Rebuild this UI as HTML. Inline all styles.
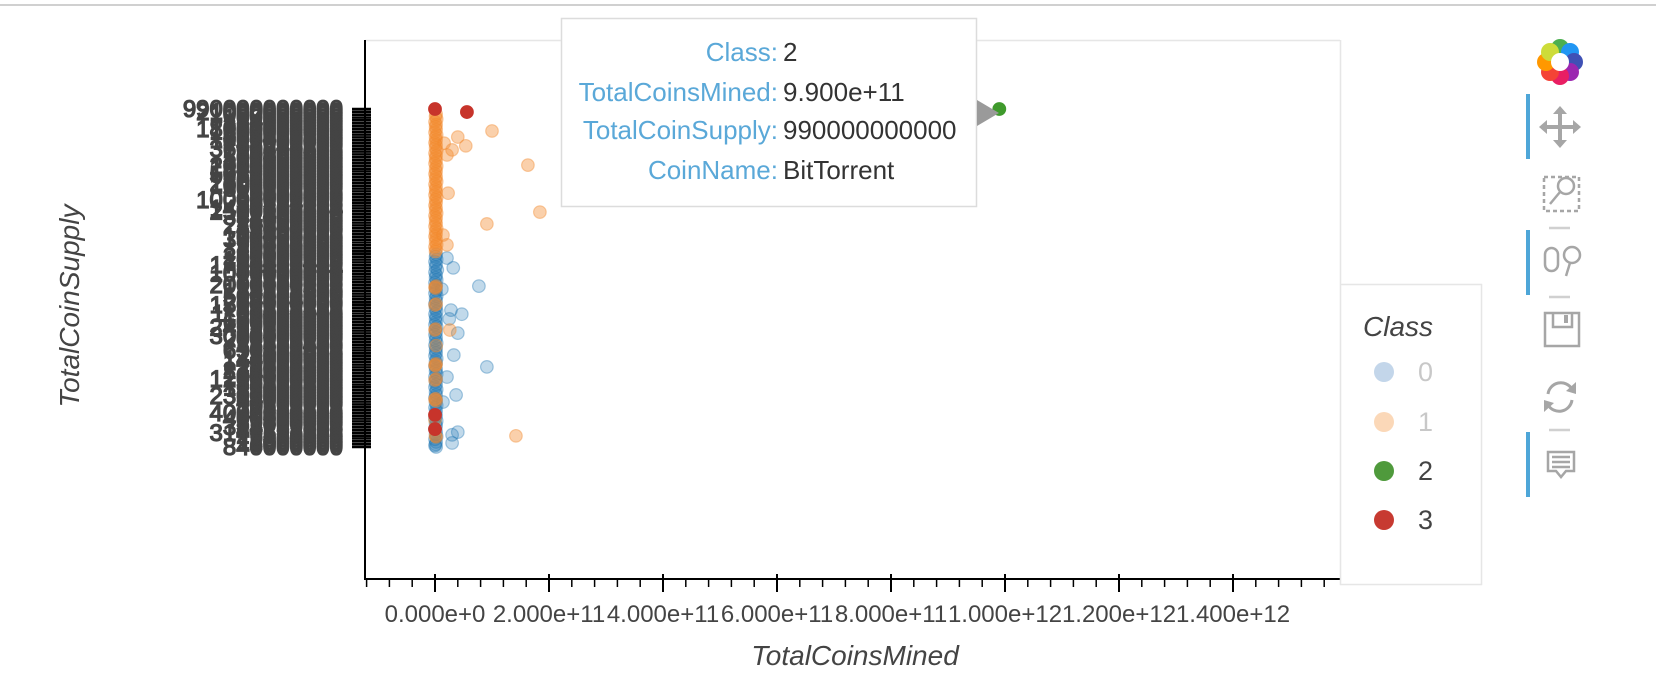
<!DOCTYPE html>
<html><head><meta charset="utf-8">
<style>
html,body{margin:0;padding:0;background:#fff;}
svg{display:block;font-family:"Liberation Sans",sans-serif;}
</style></head>
<body>
<svg id="chart" width="1656" height="694" viewBox="0 0 1656 694" xmlns="http://www.w3.org/2000/svg">
  <rect x="0" y="0" width="1656" height="694" fill="#fff"/>
  <rect x="0" y="4" width="1656" height="2" fill="#d0d0d0"/>
  <line x1="365" y1="40.5" x2="1340" y2="40.5" stroke="#e6e6e6" stroke-width="1.5"/>
  <line x1="1340.5" y1="40" x2="1340.5" y2="284" stroke="#e6e6e6" stroke-width="1.5"/>
  <g id="ylabels"></g>
  <g id="yticks"></g>
  <g id="xaxis"></g>
  <line x1="365" y1="40" x2="365" y2="580" stroke="#000" stroke-width="2"/>
  <g id="points"></g>
  <text x="79" y="306" transform="rotate(-90 79 306)" text-anchor="middle" font-size="28" font-style="italic" fill="#444">TotalCoinSupply</text>
  <text x="855" y="665" text-anchor="middle" font-size="28" font-style="italic" fill="#444">TotalCoinsMined</text>

  <g>
    <rect x="1340.5" y="284.5" width="141" height="300" fill="#fff" stroke="#e6e6e6" stroke-width="1.5"/>
    <text x="1363" y="336" font-size="28" font-style="italic" fill="#444">Class</text>
    <g><circle cx="1384" cy="372" r="10" fill="#c3d6ea"/><text x="1418" y="381" font-size="27" fill="#c8c8c8">0</text></g>
    <g><circle cx="1384" cy="422" r="10" fill="#fbd8b8"/><text x="1418" y="431" font-size="27" fill="#c8c8c8">1</text></g>
    <g><circle cx="1384" cy="471" r="10" fill="#4f9a3c"/><text x="1418" y="480" font-size="27" fill="#444">2</text></g>
    <g><circle cx="1384" cy="520" r="10" fill="#c73a31"/><text x="1418" y="529" font-size="27" fill="#444">3</text></g>
  </g>

  <g>
    <rect x="561.5" y="18.5" width="415" height="188" fill="#fff" stroke="#dcdcdc" stroke-width="1.5"/>
    <polygon points="977,100 999,113 977,126" fill="#9a9a9a"/>
    <g font-size="26">
      <text x="778" y="61" text-anchor="end" fill="#5aa8d8">Class:</text><text x="783" y="61" fill="#333">2</text>
      <text x="778" y="101" text-anchor="end" fill="#5aa8d8">TotalCoinsMined:</text><text x="783" y="101" fill="#333">9.900e+11</text>
      <text x="778" y="139" text-anchor="end" fill="#5aa8d8">TotalCoinSupply:</text><text x="783" y="139" fill="#333">990000000000</text>
      <text x="778" y="179" text-anchor="end" fill="#5aa8d8">CoinName:</text><text x="783" y="179" fill="#333">BitTorrent</text>
    </g>
  </g>

  <g>
    <g transform="translate(1560,62)">
      <circle cx="0" cy="-14" r="9" fill="#4caf50"/><circle cx="10" cy="-10" r="9" fill="#2196f3"/>
      <circle cx="14" cy="0" r="9" fill="#3f51b5"/><circle cx="10" cy="10" r="9" fill="#9c27b0"/>
      <circle cx="0" cy="14" r="9" fill="#e91e63"/><circle cx="-10" cy="10" r="9" fill="#f44336"/>
      <circle cx="-14" cy="0" r="9" fill="#ff9800"/><circle cx="-10" cy="-10" r="9" fill="#cddc39"/>
      <circle cx="0" cy="0" r="9" fill="#fff"/>
    </g>
    <rect x="1526" y="94" width="4" height="65" fill="#4ea6d8"/>
    <rect x="1526" y="230" width="4" height="65" fill="#4ea6d8"/>
    <rect x="1526" y="432" width="4" height="65" fill="#4ea6d8"/>
    <g fill="#a6a6a6" stroke="#a6a6a6">
      <line x1="1544" y1="127" x2="1576" y2="127" stroke-width="4"/><line x1="1560" y1="111" x2="1560" y2="143" stroke-width="4"/>
      <polygon points="1560,106 1553,114 1567,114" stroke="none"/><polygon points="1560,148 1553,140 1567,140" stroke="none"/>
      <polygon points="1539,127 1547,120 1547,134" stroke="none"/><polygon points="1581,127 1573,120 1573,134" stroke="none"/>
    </g>
    <g fill="none" stroke="#a6a6a6" stroke-width="2.5">
      <rect x="1544" y="177" width="35" height="34" stroke-dasharray="4 3"/>
      <circle cx="1566" cy="186" r="8" fill="#fff"/><line x1="1560" y1="192" x2="1550" y2="204"/>
    </g>
    <line x1="1549" y1="228" x2="1570" y2="228" stroke="#d0d0d0" stroke-width="2.5"/>
    <g fill="none" stroke="#a6a6a6" stroke-width="2.5">
      <rect x="1545" y="248" width="13" height="23" rx="6.5"/>
      <circle cx="1572" cy="255" r="8"/><line x1="1570" y1="263" x2="1566" y2="276"/>
    </g>
    <line x1="1549" y1="297" x2="1570" y2="297" stroke="#d0d0d0" stroke-width="2.5"/>
    <g fill="none" stroke="#a6a6a6" stroke-width="2.5">
      <rect x="1545" y="313" width="34" height="33"/><polyline points="1553,313 1553,327 1572,327 1572,313"/>
      <rect x="1564" y="315" width="4" height="8" fill="#a6a6a6" stroke="none"/>
    </g>
    <g fill="none" stroke="#a6a6a6" stroke-width="3">
      <path d="M1548 394 A13 13 0 0 1 1572 389"/><path d="M1572 400 A13 13 0 0 1 1548 405"/>
      <polygon points="1576,382 1576,394 1566,391" fill="#a6a6a6" stroke="none"/>
      <polygon points="1544,412 1544,400 1554,403" fill="#a6a6a6" stroke="none"/>
    </g>
    <line x1="1549" y1="430" x2="1570" y2="430" stroke="#d0d0d0" stroke-width="2.5"/>
    <g fill="none" stroke="#a6a6a6" stroke-width="2.5">
      <path d="M1548 452 H1574 V471 H1566 L1561 477 L1556 471 H1548 Z"/>
      <line x1="1552" y1="457" x2="1570" y2="457"/><line x1="1552" y1="462" x2="1570" y2="462"/><line x1="1552" y1="467" x2="1570" y2="467"/>
    </g>
  </g>
</svg>
<script>
// ---------- data ----------
const xTickValues = [0, 2e11, 4e11, 6e11, 8e11, 1e12, 1.2e12, 1.4e12];
const xTickLabels = ["0.000e+0","2.000e+11","4.000e+11","6.000e+11","8.000e+11","1.000e+12","1.200e+12","1.400e+12"];
const yCategoryLabels = [
"990000000000","21000000000","1000000000","100000000","84000000","21000000","250000000","18000000000","1600000000","500000000",
"265420800","1000000000","42000000","72245700","3600570502","21000000","10500000","500000000","120000000","98000000",
"2000000000","1840000000","210000000","5060000000","275000000","100000000","2100000000","1000000000","300000000","2232901",
"30000000","55000000","10000000000","32514916","30886000","1420609614","2500000000","21400000","384000000","1000000",
"24000000","210240000","45000000","25000000","18406979","100000000","350000000","9736000","90000000","80000000",
"16600000","60000000","250000000","105000000","184467440","1750000000","24487944","40000000","1000000000","22000000",
"13370000","3315789","2000000000","16906397","174958000","78835200","500000000","14524851","265000000","1500000000",
"3853326","38533248","1100000000","20000000","120000000","600000000","29000000","2419200000","92000000","12500000",
"3000000000","200000000","27716121","35520400","46000000","650659833","15000000","27000000","144000000","140000000",
"19276800","17000000","230000000","4500000","100000000","1200000000","36900000","81962100","170000000","32000000",
"8000000","2300000000","64000000","42000000","90600000","10638298","11235813","4000000000","1300000","400000000",
"31800000","52000000","314159265","48252000","3141592653","26550000","2800000","12000000","6000000","840000000"
];
const class0Points = [
[2e9,57],[1e9,56.3],[3e9,55.5],[0,54.8],[2e9,54],[1e9,53.2],[4e9,52.4],[0,51.7],[2e9,50.9],[1e9,50.1],
[3e9,49.4],[0,48.6],[2e9,47.8],[1e9,47],[2e9,46.3],[0,45.5],[3e9,44.7],[1e9,44],[2e9,43.2],[0,42.4],
[2e9,41.6],[1e9,40.9],[3e9,40.1],[0,39.3],[2e9,38.6],[1e9,37.8],[2e9,37],[0,36.2],[3e9,35.5],[1e9,34.7],
[2e9,33.9],[0,33.2],[2e9,32.4],[1e9,31.6],[3e9,30.8],[0,30.1],[2e9,29.3],[1e9,28.5],[2e9,27.8],[0,27],
[3e9,26.2],[1e9,25.4],[2e9,24.7],[0,23.9],[2e9,23.1],[1e9,22.4],[3e9,21.6],[0,20.8],[2e9,20],[1e9,19.3],
[2e9,18.5],[0,17.7],[3e9,17],[1e9,16.2],[2e9,15.4],[0,14.6],[2e9,13.9],[1e9,13.1],[3e9,12.3],[0,11.6],
[2e9,10.8],[1e9,10],[2e9,9.2],[0,8.5],[3e9,7.7],[1e9,6.9],[2e9,6.2],[0,5.4],[2e9,4.6],[1e9,3.8],
[3e9,3.1],[0,2.3],[2e9,1.5],[1e9,0.8],[2e9,0],[0,0.4],
[2.1e10,55.9],[3.2e10,53],[7.7e10,47.6],[1.2e10,46.7],[2.8e10,40.5],[4.7e10,39.3],[2.5e10,37.9],[4.0e10,33.7],
[3.3e10,27.2],[9.1e10,23.7],[2.1e10,20.7],[3.7e10,15.4],[1.4e10,13.3],[4.0e10,4.4],[3.0e10,3.6],[3.0e10,1.2]
];
const class1Points = [
[2e9,98.5],[1e9,97.8],[3e9,97],[0,96.2],[2e9,95.4],[1e9,94.7],[2e9,93.9],[0,93.1],[3e9,92.3],[1e9,91.6],
[2e9,90.8],[0,90],[2e9,89.3],[1e9,88.5],[3e9,87.7],[0,86.9],[2e9,86.2],[1e9,85.4],[2e9,84.6],[0,83.9],
[3e9,83.1],[1e9,82.3],[2e9,81.5],[0,80.8],[2e9,80],[1e9,79.2],[3e9,78.5],[0,77.7],[2e9,76.9],[1e9,76.1],
[2e9,75.4],[0,74.6],[3e9,73.8],[1e9,73.1],[2e9,72.3],[0,71.5],[2e9,70.7],[1e9,70],[3e9,69.2],[0,68.4],
[2e9,67.7],[1e9,66.9],[2e9,66.1],[0,65.3],[3e9,64.6],[1e9,63.8],[2e9,63],[0,62.3],[2e9,61.5],[1e9,60.7],
[3e9,59.9],[0,59.2],[2e9,58.4],[1e9,57.8],
[0,47.3],[2e9,47.6],[1e9,47],[0,42],[2e9,42.3],[0,34.6],[1e9,34.9],[2e9,30],[0,24.3],[2e9,24.6],[1e9,24],
[0,19.8],[2e9,20.1],[0,14],[1e9,14.3],[2e9,13.7],[0,8],[2e9,3],[1e9,3.3],
[1.0e11,93.5],[4.0e10,91.7],[5.4e10,89.1],[3.0e10,87.9],[1.6e10,89.9],[2.1e10,86.4],[1.63e11,83.4],[2.3e10,75.1],
[1.84e11,69.5],[9.1e10,66],[1.4e10,62.7],[2.1e10,59.8],[2.6e10,34.6],[1.42e11,3.3]
];
const class2Points = [[9.9e11,100]];
const class3Points = [[0,100],[5.6e10,99.1],[0,9.5],[0,5.3]];

// ---------- scales ----------
const X0 = 435, PX_PER_UNIT = 570 / 1e12;
function xScale(v){ return X0 + v * PX_PER_UNIT; }
const Y_BOTTOM = 447, Y_TOP = 109;
function yScale(rank){ return Y_BOTTOM - rank / 100 * (Y_BOTTOM - Y_TOP); }
const NS = "http://www.w3.org/2000/svg";
function mk(tag, attrs, parent){ const e = document.createElementNS(NS, tag); for (const k in attrs) e.setAttribute(k, attrs[k]); parent.appendChild(e); return e; }

// ---------- x axis ----------
const xaxis = document.getElementById('xaxis');
const axLine = mk('line', {x1:365, y1:579, x2:1340, y2:579, stroke:'#000', 'stroke-width':2}, xaxis);


const xMin = (365 - X0) / PX_PER_UNIT, xMax = (1340 - X0) / PX_PER_UNIT;
const minorStep = 4e10;
for (let v = Math.ceil(xMin / minorStep) * minorStep; v <= xMax; v += minorStep) {
  const px = xScale(v);
  const t = mk('line', {x1:px, y1:579, x2:px, y2:587, stroke:'#000', 'stroke-width':1.5}, xaxis);
  
  
}
xTickValues.forEach((v, i) => {
  const px = xScale(v);
  const t = mk('line', {x1:px, y1:574, x2:px, y2:592, stroke:'#000', 'stroke-width':2}, xaxis);
  
  
  const lab = mk('text', {x:px, y:622, 'text-anchor':'middle', 'font-size':24, fill:'#444'}, xaxis);
  lab.textContent = xTickLabels[i];
  
  
});

// ---------- y axis (categorical) ----------
const ylabels = document.getElementById('ylabels');
const yticks = document.getElementById('yticks');
const nCat = yCategoryLabels.length;
yCategoryLabels.forEach((lab, i) => {
  const rank = 100 - i * 100 / (nCat - 1);
  const py = yScale(rank);
  const t = mk('line', {x1:352, y1:py, x2:371, y2:py, stroke:'#000', 'stroke-width':2.6}, yticks);
  
  
  const tx = mk('text', {x:343, y:py + 8, 'text-anchor':'end', 'font-size':24, fill:'#444', stroke:'#444', 'stroke-width':1.3}, ylabels);
  tx.textContent = lab;
  
  
});

// ---------- points ----------
const pg = document.getElementById('points');
function drawSeries(points, color, fillOp, strokeOp, name){
  points.forEach(p => {
    const c = mk('circle', {cx:xScale(p[0]), cy:yScale(p[1]), r:6.3, fill:color, 'fill-opacity':fillOp, stroke:color, 'stroke-opacity':strokeOp, 'stroke-width':1.2}, pg);
    
    
  });
}
drawSeries(class0Points, '#1f77b4', 0.28, 0.38, 'point-class-0');
drawSeries(class1Points, '#f28a2e', 0.4, 0.4, 'point-class-1');
drawSeries(class3Points, '#c7342b', 1, 1, 'point-class-3');
drawSeries(class2Points, '#3f9a2c', 1, 1, 'point-class-2');
</script>
</body></html>
